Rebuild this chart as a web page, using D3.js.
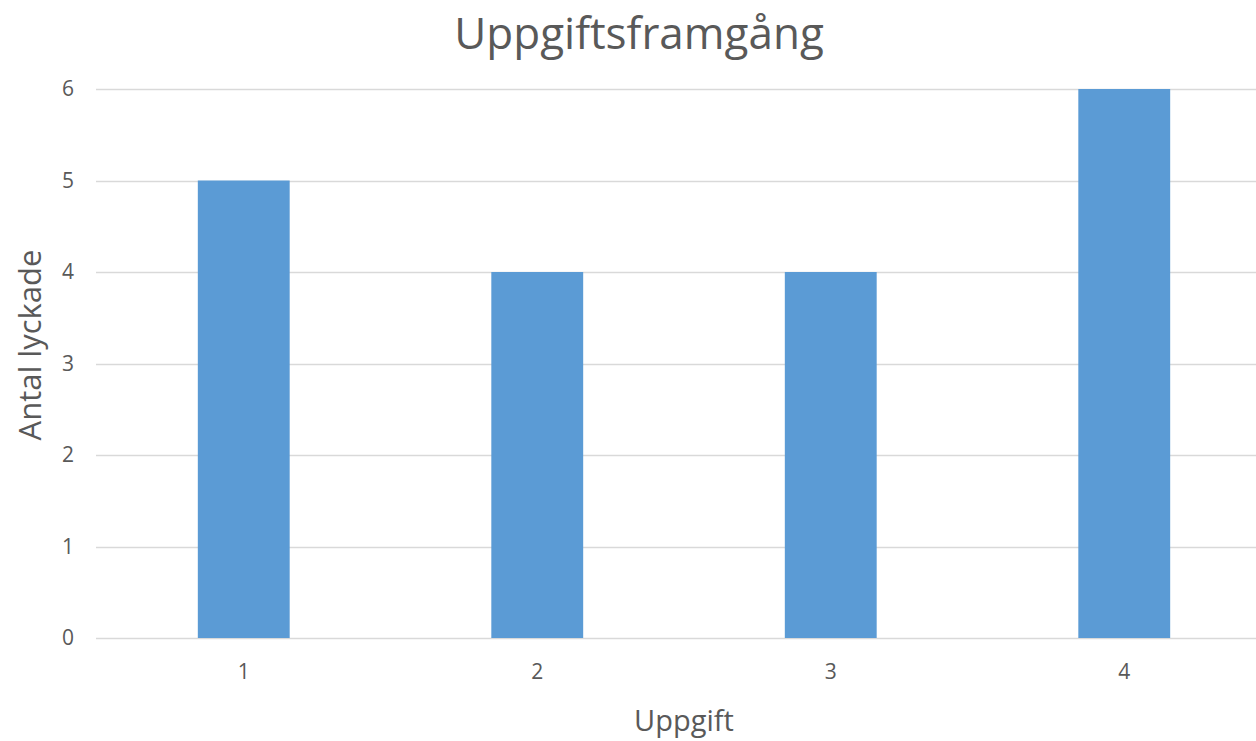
<!DOCTYPE html>
<html>
<head>
<meta charset="utf-8">
<script src="https://cdn.jsdelivr.net/npm/d3@7"></script>
<style>
  html, body { margin: 0; padding: 0; background: #fff; }
  svg { display: block; font-family: "Open Sans", sans-serif; }
</style>
</head>
<body>
<svg id="chart" width="1256" height="741"></svg>
<script>
// Task success counts
const tasks = ["1", "2", "3", "4"];
const successes = [5, 4, 4, 6];
const yTicks = [0, 1, 2, 3, 4, 5, 6];
const titleText = "Uppgiftsframgång";
const xTitle = "Uppgift";
const yTitle = "Antal lyckade";

const svg = d3.select("#chart");
const textColor = "#595959";
const gridColor = "#D9D9D9";
const barColor = "#5B9BD5";

const x = d3.scaleBand()
  .domain(tasks)
  .range([97, 1271])
  .paddingInner(0.687)
  .paddingOuter(0.3435);

const y = d3.scaleLinear()
  .domain([0, 6])
  .range([638, 89]);

// Horizontal gridlines
svg.append("g")
  .selectAll("line")
  .data(yTicks)
  .join("line")
  .attr("x1", 96)
  .attr("x2", 1270)
  .attr("y1", d => Math.round(y(d)) + 0.5)
  .attr("y2", d => Math.round(y(d)) + 0.5)
  .attr("stroke", gridColor)
  .attr("stroke-width", 1.5);

// Bars
svg.append("g")
  .selectAll("rect")
  .data(tasks.map((t, i) => ({ t, v: successes[i] })))
  .join("rect")
  .attr("x", d => x(d.t))
  .attr("width", x.bandwidth())
  .attr("y", d => y(d.v))
  .attr("height", d => y(0) - y(d.v))
  .attr("fill", barColor);

// Y axis labels
const yAxis = svg.append("g")
  .attr("transform", "translate(74,0)")
  .call(d3.axisLeft(y).tickValues(yTicks).tickSize(0).tickPadding(0).tickFormat(d3.format("d")));
yAxis.select(".domain").remove();
yAxis.selectAll("text")
  .attr("fill", textColor)
  .style("font-size", "21px")
  .style("font-family", "'Open Sans', sans-serif");

// X axis labels
const xAxis = svg.append("g")
  .attr("transform", "translate(0,664)")
  .call(d3.axisBottom(x).tickSize(0).tickPadding(0));
xAxis.select(".domain").remove();
xAxis.selectAll("text")
  .attr("fill", textColor)
  .style("font-size", "21px")
  .style("font-family", "'Open Sans', sans-serif");

// Title
svg.append("text")
  .attr("x", 639)
  .attr("y", 49)
  .attr("text-anchor", "middle")
  .attr("fill", textColor)
  .style("font-size", "44px")
  .text(titleText);

// X axis title
svg.append("text")
  .attr("x", 684)
  .attr("y", 731)
  .attr("text-anchor", "middle")
  .attr("fill", textColor)
  .style("font-size", "29px")
  .text(xTitle);

// Y axis title
svg.append("text")
  .attr("transform", "translate(41,345) rotate(-90)")
  .attr("text-anchor", "middle")
  .attr("fill", textColor)
  .style("font-size", "31px")
  .text(yTitle);
</script>
</body>
</html>
